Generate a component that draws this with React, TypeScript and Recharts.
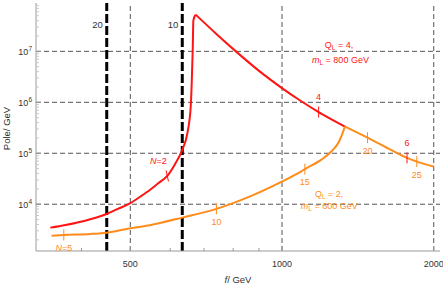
import React from "react";
import { ComposedChart, Line, Scatter, XAxis, YAxis, ReferenceLine } from "recharts";

// f / GeV  vs  Pole / GeV, both log
const redF = [347, 372, 405, 449, 470, 500, 524, 549, 569, 592, 612, 634, 649, 659, 662, 665, 667, 674, 739, 810, 899, 995, 1090, 1182, 1333];
const redPole = [3470, 3920, 4700, 6440, 7910, 10470, 14200, 19700, 26200, 36000, 59200, 117000, 249000, 830000, 2430000, 10800000, 40600000, 52600000, 22500000, 10000000, 4190000, 1970000, 1060000, 644000, 335000];

const orangeF = [349, 369, 417, 449, 500, 549, 634, 741, 850, 999, 1090, 1110, 1195, 1251, 1297, 1333, 1478, 1645, 1770, 1851, 2000];
const orangePole = [2415, 2490, 2610, 2770, 3370, 3920, 5460, 8090, 13300, 27800, 43700, 48800, 74300, 107000, 168000, 335000, 203000, 117000, 81300, 68700, 54800];

// N markers along the curves
const redMarkF = [592, 1182, 1770];
const redMarkPole = [36000, 644000, 81300];
const redMarkLabels = ["N=2", "4", "6"];
const orangeMarkF = [369, 741, 1110, 1478, 1851];
const orangeMarkPole = [2490, 8090, 48800, 203000, 68700];
const orangeMarkLabels = ["N=5", "10", "15", "20", "25"];

// vertical cut lines
const cutF = [449, 634];
const cutLabels = ["20", "10"];

// text notes
const noteF = [1297, 1306, 1240, 1241];
const notePole = [13500000, 6870000, 15900, 9260];
const noteSym = ["Q", "m", "Q", "m"];
const noteRest = [" = 4,", " = 800 GeV", " = 2,", " = 600 GeV"];
const noteSeries = ["red", "red", "orange", "orange"];

const fTicks = [400, 500, 600, 700, 800, 900, 1000, 2000];
const fLabeled = [500, 1000, 2000];
const gridF = [500, 1000, 2000];
const gridPole = [1e4, 1e5, 1e6, 1e7];
const decades = [1e3, 1e4, 1e5, 1e6, 1e7];
const mults = [1, 2, 3, 4, 5, 6, 7, 8, 9];

const F_DOMAIN: [number, number] = [325, 2058];
const P_DOMAIN: [number, number] = [1208, 8.9e7];
const poleTicks = decades.flatMap(d => mults.map(m => m * d)).filter(v => v >= P_DOMAIN[0] && v <= P_DOMAIN[1]);

const red = redF.map((f, i) => ({ f, pole: redPole[i] }));
const orange = orangeF.map((f, i) => ({ f, pole: orangePole[i] }));
const redMarks = redMarkF.map((f, i) => ({ f, pole: redMarkPole[i], label: redMarkLabels[i] }));
const orangeMarks = orangeMarkF.map((f, i) => ({ f, pole: orangeMarkPole[i], label: orangeMarkLabels[i] }));
const notes = noteF.map((f, i) => ({ f, pole: notePole[i], sym: noteSym[i], rest: noteRest[i], series: noteSeries[i] }));

// split each curve at its maximum so the smooth interpolation keeps the sharp corner
const peakIdx = (arr: number[]) => arr.indexOf(Math.max(...arr));
const redRise = red.slice(0, peakIdx(redPole) + 1);
const redFall = red.slice(peakIdx(redPole));
const orangeRise = orange.slice(0, peakIdx(orangePole) + 1);
const orangeFall = orange.slice(peakIdx(orangePole));

const RED = "#ff1414";
const ORANGE = "#ff8c1a";
const FRAME = "#9a9a9a";
const MINOR = "#c8c8c8";
const TXT = "#333";
const FONT = "'Liberation Sans', Arial, sans-serif";

const isDecade = (v: number) => Math.abs(Math.log10(v) - Math.round(Math.log10(v))) < 1e-9;

function BottomTick(p: any) {
  const v = p.payload.value;
  const major = fLabeled.includes(v);
  return (
    <g>
      <line x1={p.x} x2={p.x} y1={p.y} y2={p.y - (major ? 5 : 3)} stroke={FRAME} />
      {major && (
        <text x={p.x} y={p.y + 15.5} textAnchor="middle" fontSize={9} fill={TXT} fontFamily={FONT}>{v}</text>
      )}
    </g>
  );
}

function TopTick(p: any) {
  const major = fLabeled.includes(p.payload.value);
  return <line x1={p.x} x2={p.x} y1={p.y} y2={p.y + (major ? 5 : 3)} stroke={FRAME} />;
}

function LeftTick(p: any) {
  const v = p.payload.value;
  const major = isDecade(v);
  return (
    <g>
      <line x1={p.x} x2={p.x + (major ? 5 : 3)} y1={p.y} y2={p.y} stroke={major ? FRAME : MINOR} />
      {major && (
        <text x={p.x - 4} y={p.y + 4} textAnchor="end" fontSize={9} fill={TXT} fontFamily={FONT}>
          <tspan>10</tspan>
          <tspan dy={-4.5} fontSize={6.5}>{Math.round(Math.log10(v))}</tspan>
        </text>
      )}
    </g>
  );
}

function RightTick(p: any) {
  const major = isDecade(p.payload.value);
  return <line x1={p.x} x2={p.x - (major ? 5 : 3)} y1={p.y} y2={p.y} stroke={major ? FRAME : MINOR} />;
}

function xTitle(p: any) {
  const vb = p.viewBox;
  return (
    <text x={vb.x + vb.width / 2} y={vb.y + 31.5} textAnchor="middle" fontSize={9.5} fill={TXT} fontFamily={FONT}>
      <tspan fontStyle="italic">f</tspan>/ GeV
    </text>
  );
}

function yTitle(p: any) {
  const vb = p.viewBox;
  const cx = 9.5;
  const cy = vb.y + vb.height / 2 + 1.5;
  return (
    <text x={cx} y={cy} transform={`rotate(-90, ${cx}, ${cy})`} textAnchor="middle" fontSize={9.5} fill={TXT} fontFamily={FONT}>
      Pole/ GeV
    </text>
  );
}

function markLabel(label: string) {
  if (label.startsWith("N=")) {
    return (<><tspan fontStyle="italic">N</tspan>{label.slice(1)}</>);
  }
  return label;
}

function redMarkShape(p: any) {
  const { cx, cy, payload } = p;
  const isN = payload.label.startsWith("N=");
  return (
    <g>
      <line x1={cx - (isN ? 1.2 : 0)} x2={cx + (isN ? 1.2 : 0)} y1={cy - 5.5} y2={cy + 5.5} stroke={RED} strokeWidth={1} />
      <text x={cx + (isN ? -9 : 0)} y={cy - 12} textAnchor="middle" fontSize={9} fill={RED} fontFamily={FONT}>
        {markLabel(payload.label)}
      </text>
    </g>
  );
}

function orangeMarkShape(p: any) {
  const { cx, cy, payload } = p;
  return (
    <g>
      <line x1={cx} x2={cx} y1={cy - 5.5} y2={cy + 5.5} stroke={ORANGE} strokeWidth={1} />
      <text x={cx} y={cy + 16} textAnchor="middle" fontSize={9} fill={ORANGE} fontFamily={FONT}>
        {markLabel(payload.label)}
      </text>
    </g>
  );
}

function noteShape(p: any) {
  const { cx, cy, payload } = p;
  const col = payload.series === "red" ? RED : ORANGE;
  return (
    <text x={cx} y={cy + 3.5} textAnchor="middle" fontSize={9} fill={col} fontFamily={FONT}>
      <tspan fontStyle={payload.sym === "m" ? "italic" : "normal"}>{payload.sym}</tspan>
      <tspan dy={2} fontSize={6.5}>L</tspan>
      <tspan dy={-2}>{payload.rest}</tspan>
    </text>
  );
}

function cutLabel(text: string) {
  return (p: any) => {
    const vb = p.viewBox;
    return (
      <text x={vb.x - 4} y={vb.y + 24.5} textAnchor="end" fontSize={9.5} fill={TXT} fontFamily={FONT}>{text}</text>
    );
  };
}

export default function App() {
  return (
    <div style={{ position: "absolute", left: 0, top: 0, background: "#fff" }}>
      <ComposedChart width={443} height={287} margin={{ top: 3, right: 3, bottom: 0, left: 0 }}>
        <XAxis
          dataKey="f" type="number" scale="log" domain={F_DOMAIN} allowDataOverflow
          ticks={fTicks} interval={0} tickSize={0} tickMargin={0} tickLine={false}
          axisLine={{ stroke: FRAME }} tick={(p: any) => <BottomTick {...p} />} height={36}
          label={xTitle}
        />
        <XAxis
          xAxisId="top" orientation="top" dataKey="f" type="number" scale="log" domain={F_DOMAIN} allowDataOverflow
          ticks={fTicks} interval={0} tickSize={0} tickMargin={0} tickLine={false}
          axisLine={{ stroke: FRAME }} tick={(p: any) => <TopTick {...p} />} height={0}
        />
        <YAxis
          dataKey="pole" type="number" scale="log" domain={P_DOMAIN} allowDataOverflow
          ticks={poleTicks} interval={0} tickSize={0} tickMargin={0} tickLine={false}
          axisLine={{ stroke: FRAME }} tick={(p: any) => <LeftTick {...p} />} width={36}
          label={yTitle}
        />
        <YAxis
          yAxisId="right" orientation="right" dataKey="pole" type="number" scale="log" domain={P_DOMAIN} allowDataOverflow
          ticks={poleTicks} interval={0} tickSize={0} tickMargin={0} tickLine={false}
          axisLine={{ stroke: FRAME }} tick={(p: any) => <RightTick {...p} />} width={0}
        />

        {gridPole.map(v => (
          <ReferenceLine key={`gy${v}`} y={v} stroke="#555" strokeDasharray="5 3" />
        ))}
        {gridF.map(v => (
          <ReferenceLine key={`gx${v}`} x={v} stroke="#555" strokeDasharray="5 3" />
        ))}
        {cutF.map((v, i) => (
          <ReferenceLine key={`cut${v}`} x={v} stroke="#000" strokeWidth={3} strokeDasharray="9 3" label={cutLabel(cutLabels[i])} />
        ))}

        <Line data={redRise} dataKey="pole" type="monotone" stroke={RED} strokeWidth={2} dot={false} isAnimationActive={false} />
        <Line data={redFall} dataKey="pole" type="monotone" stroke={RED} strokeWidth={2} dot={false} isAnimationActive={false} />
        <Line data={orangeRise} dataKey="pole" type="monotone" stroke={ORANGE} strokeWidth={2} dot={false} isAnimationActive={false} />
        <Line data={orangeFall} dataKey="pole" type="monotone" stroke={ORANGE} strokeWidth={2} dot={false} isAnimationActive={false} />
        <Scatter data={redMarks} dataKey="pole" shape={redMarkShape} isAnimationActive={false} />
        <Scatter data={orangeMarks} dataKey="pole" shape={orangeMarkShape} isAnimationActive={false} />
        <Scatter data={notes} dataKey="pole" shape={noteShape} isAnimationActive={false} />
      </ComposedChart>
    </div>
  );
}
